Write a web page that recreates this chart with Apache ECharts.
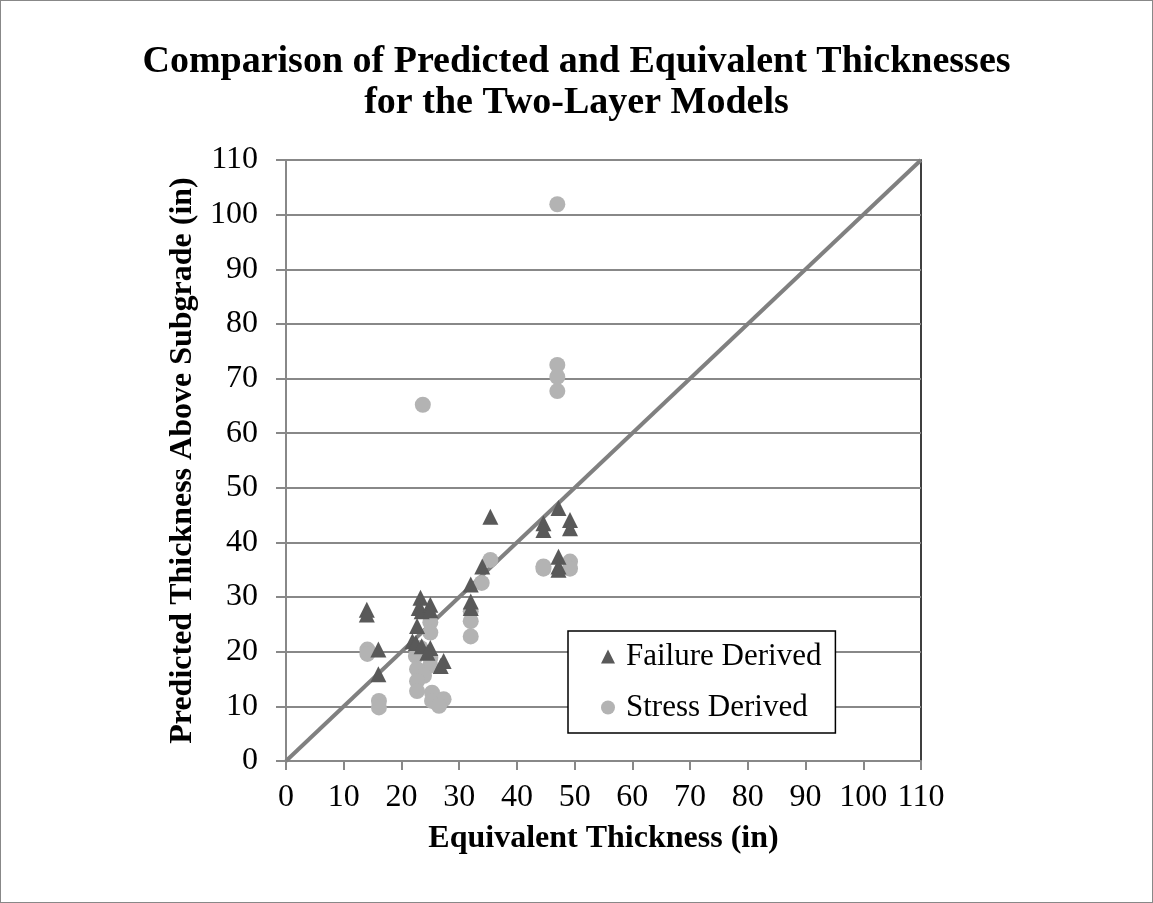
<html lang="en">
  <head>
    <meta charset="UTF-8" />
    <title>Comparison of Predicted and Equivalent Thicknesses</title>
    <style>
      body { margin: 0; background: #fff; }
      #main { width: 1153px; height: 903px; box-sizing: border-box; border: 1px solid #888; }
    </style>
  </head>
  <body>
    <div id="main"></div>

    <script src="https://cdn.jsdelivr.net/npm/echarts@6/dist/echarts.min.js"></script>
    <script>
      // values
      let failureX = [14, 14, 16, 16, 23.3, 23, 23.5, 25, 25, 22.7, 21.9, 22.5, 23.5, 25, 24.5, 27.3, 26.8, 32, 32, 32, 34, 35.4, 44.6, 44.6, 47.2, 49.2, 49.2, 47.2, 47.2, 47.2]
      let failureY = [27.7, 26.8, 20.4, 15.9, 29.9, 28, 27.4, 28.6, 27.6, 24.7, 21.9, 21.6, 21, 20.7, 19.8, 18.3, 17.4, 32.3, 29.2, 28, 35.6, 44.7, 43.5, 42.3, 46.3, 44.1, 42.6, 37.4, 35.6, 35]
      let stressX = [14.1, 14.1, 16.1, 16.1, 23.7, 47, 47, 47, 47, 44.6, 44.6, 49.2, 49.2, 35.4, 33.9, 32, 32, 32, 25, 25, 23.3, 22.5, 25, 25, 22.7, 23.9, 22.7, 22.7, 25.3, 25.3, 27.3, 26.5]
      let stressY = [20.4, 19.6, 11, 9.8, 65.2, 101.9, 72.5, 70.3, 67.7, 35.6, 35.2, 36.5, 35.2, 36.8, 32.6, 27.4, 25.6, 22.8, 25.4, 23.5, 20.7, 19.2, 18.9, 17.5, 16.8, 15.6, 14.6, 12.8, 12.5, 11, 11.3, 10.1]
      let diagonal = [0, 110]

      let zip = (xs, ys) => xs.map((x, i) => [x, ys[i]])
      let font = 'Liberation Serif, Times New Roman, serif'

      let myChart = echarts.init(document.getElementById('main'))
      let option = {
        animation: false,
        textStyle: { fontFamily: font },
        title: {
          text: 'Comparison of Predicted and Equivalent Thicknesses\nfor the Two-Layer Models',
          left: 'center',
          top: 36,
          textStyle: { fontFamily: font, fontSize: 38, fontWeight: 'bold', color: '#000', lineHeight: 41 }
        },
        grid: {
          left: 285, right: 231, top: 159, bottom: 141,
          show: true, borderColor: '#000', borderWidth: 1.5
        },
        legend: {
          left: 567, top: 630, orient: 'vertical',
          padding: [10, 14, 10, 33], itemGap: 20,
          itemWidth: 14, itemHeight: 14,
          borderColor: '#000', borderWidth: 1.5, backgroundColor: '#fff',
          textStyle: { fontFamily: font, fontSize: 31, color: '#000', lineHeight: 30, padding: [0, 0, 0, 6] },
          data: [
            { name: 'Failure Derived', icon: 'triangle' },
            { name: 'Stress Derived', icon: 'circle' }
          ]
        },
        xAxis: {
          type: 'value', min: 0, max: 110, interval: 10,
          name: 'Equivalent Thickness (in)', nameLocation: 'middle', nameGap: 62,
          nameTextStyle: { fontFamily: font, fontSize: 32, fontWeight: 'bold', color: '#000' },
          axisLine: { lineStyle: { color: '#888', width: 2 } },
          axisTick: { show: true, length: 9, lineStyle: { color: '#888', width: 2 } },
          axisLabel: { fontFamily: font, fontSize: 32, color: '#000', margin: 21 },
          splitLine: { show: false }
        },
        yAxis: {
          type: 'value', min: 0, max: 110, interval: 10,
          name: 'Predicted Thickness Above Subgrade (in)', nameLocation: 'middle', nameGap: 84,
          nameTextStyle: { fontFamily: font, fontSize: 32, fontWeight: 'bold', color: '#000' },
          axisLine: { lineStyle: { color: '#888', width: 2 } },
          axisTick: { show: true, length: 10, lineStyle: { color: '#888', width: 2 } },
          axisLabel: { fontFamily: font, fontSize: 32, color: '#000', margin: 28 },
          splitLine: { show: true, lineStyle: { color: '#888', width: 2 } }
        },
        series: [
          {
            name: 'diagonal', type: 'line', data: zip(diagonal, diagonal),
            symbol: 'none', lineStyle: { color: '#808080', width: 4 }, z: 1
          },
          {
            name: 'Failure Derived', type: 'scatter', data: zip(failureX, failureY),
            symbol: 'triangle', symbolSize: 16, itemStyle: { color: '#595959', opacity: 1 }, z: 3
          },
          {
            name: 'Stress Derived', type: 'scatter', data: zip(stressX, stressY),
            symbol: 'circle', symbolSize: 16, itemStyle: { color: '#b3b3b3', opacity: 1 }, z: 2
          }
        ]
      }
      myChart.setOption(option)
    </script>
  </body>
</html>
